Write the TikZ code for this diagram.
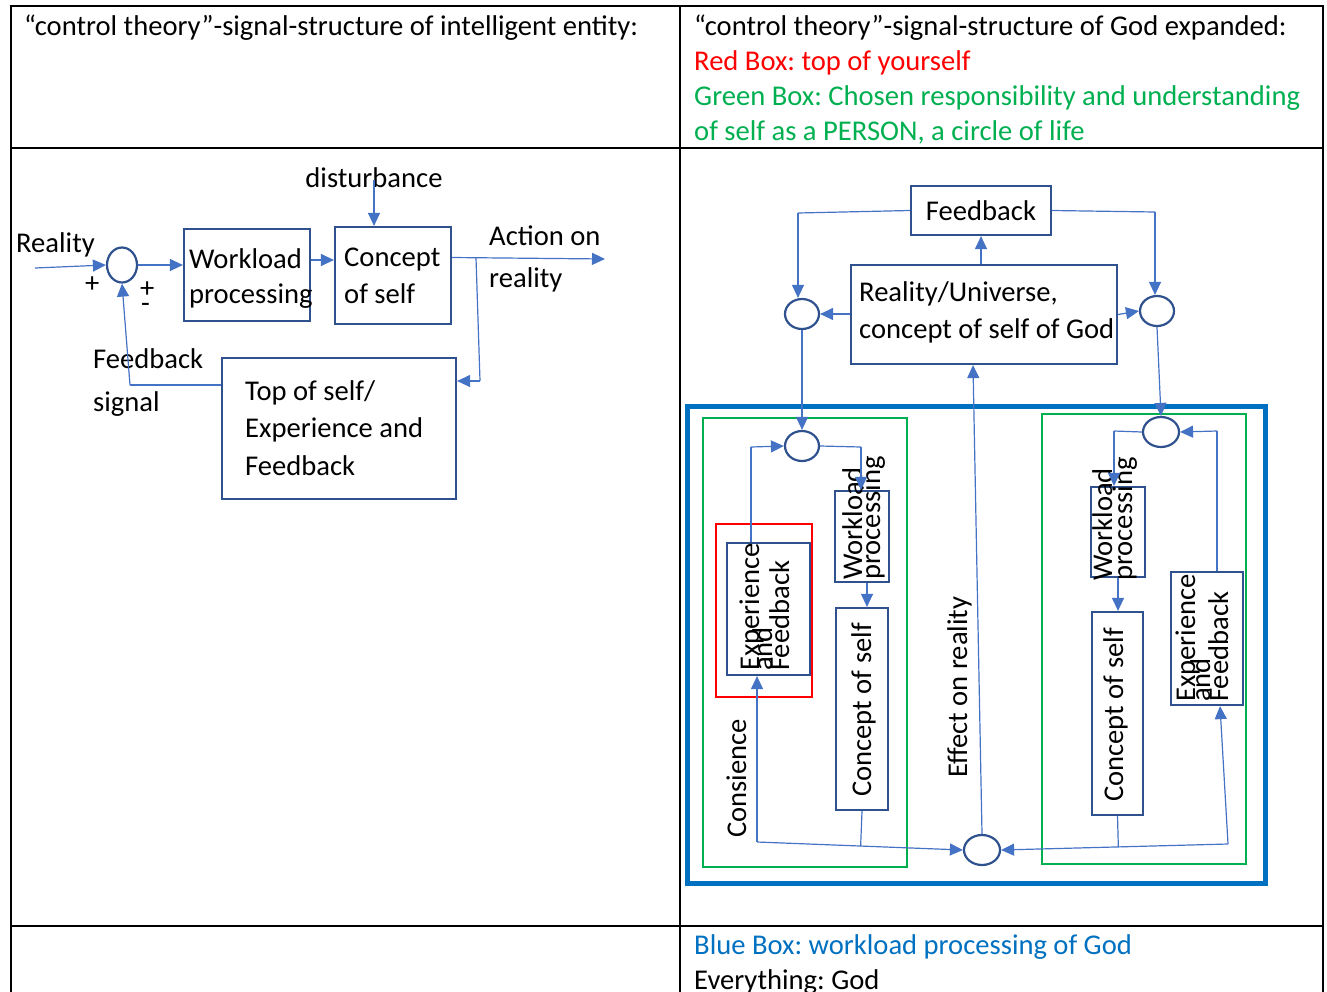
\documentclass[tikz,border=0pt]{standalone}
\usepackage{fontspec}
\setmainfont{Carlito}
\usetikzlibrary{arrows.meta,shapes.geometric,calc}
\definecolor{conn}{HTML}{4472C4}
\definecolor{boxc}{HTML}{2F528F}
\definecolor{bluebox}{HTML}{0070C0}
\definecolor{greenbox}{HTML}{00B050}
\definecolor{redbox}{HTML}{FF0000}
\frenchspacing
\begin{document}
\begin{tikzpicture}[x=1pt,y=-1pt,
  font=\fontsize{28.6}{35}\selectfont\frenchspacing,
  tbl/.style={draw=black, line width=1.8pt},
  box/.style={draw=boxc, line width=2.2pt, inner sep=0pt},
  sumc/.style={ellipse, draw=boxc, line width=2.2pt, inner sep=0pt},
  line/.style={draw=conn, line width=1.2pt},
  arr/.style={draw=conn, line width=1.2pt, -{Triangle[length=13pt,width=12pt]}},
  lbl/.style={anchor=west, inner sep=0pt, text height=22pt, text depth=4pt},
  rot/.style={rotate=90, anchor=base west, inner sep=0pt}]
\path[use as bounding box] (0,0) rectangle (1327,991);
% table
\draw[tbl] (11,1000) -- (11,6) -- (1323,6) -- (1323,1000);
\draw[tbl] (11,148) -- (1323,148);
\draw[tbl] (11,926) -- (1323,926);
\draw[tbl] (680,6) -- (680,1000);
% headers
\node[lbl] (h1) at (24,26) {“control theory”-signal-structure of intelligent entity:};
\node[lbl] (h2) at (694,26) {“control theory”-signal-structure of God expanded:};
\node[lbl, text=redbox] (h3) at (694,61) {Red Box: top of yourself};
\node[lbl, text=greenbox] (h4) at (694,96) {Green Box: Chosen responsibility and understanding};
\node[lbl, text=greenbox] (h5) at (694,131) {of self as a PERSON, a circle of life};
\node[lbl, text=bluebox] (h6) at (694,945) {Blue Box: workload processing of God};
\node[lbl] (h7) at (694,980) {Everything: God};

% ---------- left diagram ----------
\node[sumc, minimum width=30pt, minimum height=35pt] (s1) at (122,265) {};
\node[box, minimum width=126pt, minimum height=92pt] (wl) at (247,275) {};
\node[box, minimum width=116pt, minimum height=97pt] (cs) at (393,275.5) {};
\node[box, minimum width=234pt, minimum height=141pt] (tos) at (339,428.5) {};
\node[lbl, anchor=center] (dist) at (374,178) {disturbance};
\node[lbl] (real) at (16,243) {Reality};
\node[lbl] (p1) at (85,283) {+};
\node[lbl] (p2) at (140,288) {+};
\node[lbl] (m1) at (141,303) {-};
\node[lbl] (wlt1) at (189,259) {Workload};
\node[lbl] (wlt2) at (189,294) {processing};
\node[lbl] (cst1) at (344,257) {Concept};
\node[lbl] (cst2) at (344,294) {of self};
\node[lbl] (act1) at (489,236) {Action on};
\node[lbl] (act2) at (489,278) {reality};
\node[lbl] (fbs1) at (93,359) {Feedback};
\node[lbl] (fbs2) at (93,402) {signal};
\node[lbl] (tost1) at (245,391) {Top of self/};
\node[lbl] (tost2) at (245,428) {Experience and};
\node[lbl] (tost3) at (245,466) {Feedback};

\coordinate (rin) at (35,268);
\draw[arr] (rin) -- (s1.west);
\draw[arr] (s1.east) -- (s1.east -| wl.west);
\draw[arr] ([yshift=15pt]wl.east) -- ([yshift=15pt]wl.east -| cs.west);
\coordinate (dtop) at (374,180);
\draw[arr] (dtop) -- (dtop |- cs.north);
\coordinate (aout) at (605,259);
\draw[arr] ([yshift=18pt]cs.east) -- (aout);
\coordinate (br1) at (476,258);
\coordinate (br2) at (480,381);
\draw[line] (br1) -- (br2);
\draw[arr] (br2) -- (br2 -| tos.east);
\coordinate (fs) at (130,385);
\draw[line] (fs -| tos.west) -- (fs);
\draw[arr] (fs) -- (s1.south);

% ---------- right diagram ----------
\draw[draw=bluebox, line width=5pt] (687,406) rectangle (1265,883);
\draw[draw=greenbox, line width=2.4pt] (703,418) rectangle (907,867);
\draw[draw=greenbox, line width=2.4pt] (1042,414) rectangle (1246,864);

\node[box, minimum width=140pt, minimum height=49pt] (fb) at (981,210.5) {Feedback};
\node[box, minimum width=266pt, minimum height=99pt] (ru) at (984,314.5) {};
\node[lbl] (rut1) at (859,292) {Reality/Universe,};
\node[lbl] (rut2) at (859,329) {concept of self of God};
\node[sumc, minimum width=34pt, minimum height=30pt] (cL) at (802,314) {};
\node[sumc, minimum width=34pt, minimum height=30pt] (cR) at (1157,311) {};
\node[sumc, minimum width=34pt, minimum height=30pt] (cIL) at (802,446) {};
\node[sumc, minimum width=36pt, minimum height=30pt] (cIR) at (1161,432) {};
\node[sumc, minimum width=36pt, minimum height=30pt] (cB) at (982,850) {};

\node[box, minimum width=83pt, minimum height=132pt] (eL) at (768.5,609) {};
\draw[draw=redbox, line width=2.4pt] (716,524) rectangle (812,697);
\node[box, minimum width=54pt, minimum height=91pt] (wL) at (862,536.5) {};
\node[box, minimum width=52pt, minimum height=202pt] (kL) at (862,709) {};
\node[box, minimum width=54pt, minimum height=90pt] (wR) at (1118,532) {};
\node[box, minimum width=51pt, minimum height=203pt] (kR) at (1117.5,713.5) {};
\node[box, minimum width=72pt, minimum height=133pt] (eR) at (1207,638.5) {};

% rotated texts
\node[rot] (eLt1) at (759,671) {Experience};
\node[rot] (eLt2) at (772,671) {and};
\node[rot] (eLt3) at (789,671) {Feedback};
\node[rot] (wLt1) at (862,580) {Workload};
\node[rot] (wLt2) at (880,580) {processing};
\node[rot] (kLt) at (871,797) {Concept of self};
\node[rot] (cons) at (746,838) {Consience};
\node[rot] (eff) at (967,778) {Effect on reality};
\node[rot] (wRt1) at (1112,581) {Workload};
\node[rot] (wRt2) at (1132,581) {processing};
\node[rot] (kRt) at (1123,802) {Concept of self};
\node[rot] (eRt1) at (1195,702) {Experience};
\node[rot] (eRt2) at (1210,702) {and};
\node[rot] (eRt3) at (1228,702) {Feedback};

% connectors top
\coordinate (fbl) at (798,213);
\draw[line] (fb.west) -- (fbl);
\draw[arr] (fbl) -- (fbl |- cL.north);
\coordinate (fbr) at (1155,212);
\draw[line] (fb.east) -- (fbr);
\draw[arr] (fbr) -- (fbr |- cR.north);
\draw[arr] (fb.south |- ru.north) -- (fb.south);
\draw[arr] (ru.west |- cL.east) -- (cL.east);
\draw[arr] (ru.east) -- (cR.west);
\draw[arr] (cL.south) -- (cIL.north);
\draw[arr] (cR.south) -- (cIR.north);
\draw[arr] (cB.north) -- ([xshift=-11pt]ru.south);

% left inner loop
\coordinate (e1) at (751,447);
\draw[line] (e1 |- eL.north) -- (e1);
\draw[arr] (e1) -- (cIL.west);
\coordinate (w1) at (861,447);
\draw[line] (cIL.east) -- (w1);
\draw[arr] (w1) -- (w1 |- wL.north);
\draw[arr] ([xshift=5pt]wL.south) -- ([xshift=5pt]wL.south |- kL.north);
\coordinate (b1) at (757,842);
\draw[arr] (b1) -- (b1 |- eL.south);
\draw[arr] (b1) -- (cB.west);
\draw[line] (kL.south) -- ($(b1)!(kL.south)!(cB.west)$);

% right inner loop
\coordinate (w2) at (1114,431);
\draw[line] (cIR.west) -- (w2);
\draw[arr] (w2) -- (w2 |- wR.north);
\draw[arr] (wR.south) -- (wR.south |- kR.north);
\coordinate (e2) at (1217,431);
\draw[line] (e2 |- eR.north) -- (e2);
\draw[arr] (e2) -- (cIR.east);
\coordinate (b2) at (1228,844);
\draw[arr] (b2) -- ([xshift=13pt]eR.south);
\draw[arr] (b2) -- (cB.east);
\draw[line] (kR.south) -- ($(b2)!(kR.south)!(cB.east)$);
\end{tikzpicture}
\end{document}
